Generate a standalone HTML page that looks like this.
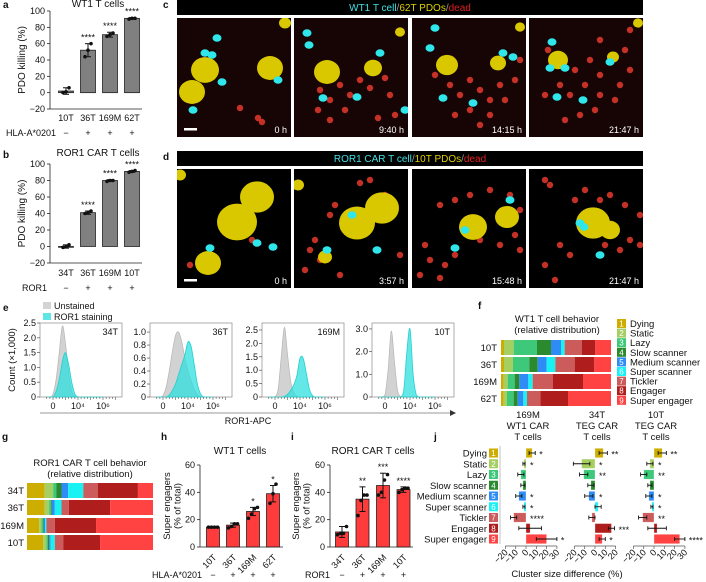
<!DOCTYPE html>
<html><head><meta charset="utf-8"><style>
html,body{margin:0;padding:0;background:#fff;}
svg{display:block;font-family:"Liberation Sans",Arial,sans-serif;}
</style></head><body>
<svg id="fig" width="706" height="582" viewBox="0 0 706 582" xmlns="http://www.w3.org/2000/svg"></svg>
<script>
// ---------- DATA ----------
const aCats=['10T','36T','169M','62T'];
const aVals=[2,52,71,91];
const aErr=[4,8,3,1];
const aPts=[[0,1,6],[44,52,60],[69,71,73],[90,91,91]];
const aCond=['−','+','+','+'];
const aStars=['','****','****','****'];
const bCats=['34T','36T','169M','10T'];
const bVals=[0,41,80,91];
const bErr=[2,2,1,1];
const bPts=[[-1,0,2],[40,41,43],[79,80,80],[90,91,92]];
const bCond=['−','+','+','+'];
const bStars=['','****','****','****'];
const abTicks=[-20,0,20,40,60,80,100];

const hCats=['10T','36T','169M','62T'];
const hVals=[14.5,16,26,39];
const hErr=[0.5,1.5,3,6];
const hPts=[[14.5,14.5,14.5,14.5],[14,15,17,17],[21,24,28,29],[32,39,46]];
const hStars=['','','*','*'];
const iCats=['34T','36T','169M','10T'];
const iVals=[11,35,45,42];
const iErr=[4,9,9,2];
const iPts=[[9,10,10,15],[23,34,38,38],[38,40,49,53],[40,42,43,43]];
const iStars=['','**','***','****'];
const hiTicks=[0,20,40,60];

const behaviors=['Dying','Static','Lazy','Slow scanner','Medium scanner','Super scanner','Tickler','Engager','Super engager'];
const fRows=['10T','36T','169M','62T'];
const f10T=[9,29,70,42,30,11,52,40,47];
const f36T=[9,27,49,25,27,26,58,59,50];
const f169M=[8,12,21,14,27,13,61,90,84];
const f62T=[8,10,20,12,17,11,40,83,129];
const gRows=['34T','36T','169M','10T'];
const g34T=[53,25,10,15,20,45,43,120,45];
const g36T=[53,13,5,3,9,20,22,123,128];
const g169M=[36,7,4,3,4,4,25,123,170];
const g10T=[48,10,4,4,4,13,25,110,158];

const histV=[-1,-0.5,0,0.5,1,1.5,2,2.5,3,3.5,4,4.5,5,5.5,6,6.5,7,7.5,8];
const histNames=['34T','36T','169M','10T'];
const histMax=[2.5,1.14,2.76,3.26];
const hist34Tgray=[0,0,0.1,0.6,1.5,2.4,1.8,0.8,0.2,0,0,0,0,0,0,0,0,0,0];
const hist34Tcyan=[0,0,0,0.2,0.6,1.2,1.5,1.1,0.5,0.1,0,0,0,0,0,0,0,0,0];
const hist36Tgray=[0,0,0.02,0.15,0.4,0.7,0.95,1.0,0.85,0.6,0.4,0.25,0.12,0.04,0,0,0,0,0];
const hist36Tcyan=[0,0,0,0,0.03,0.1,0.2,0.35,0.5,0.65,0.85,0.78,0.5,0.2,0.05,0,0,0,0];
const hist169Mgray=[0,0,0,0.3,1.5,2.6,1.6,0.6,0.15,0.03,0,0,0,0,0,0,0,0,0];
const hist169Mcyan=[0,0,0,0,0,0.02,0.1,0.25,0.45,0.8,1.45,1.45,0.9,0.3,0.05,0,0,0,0];
const hist10Tgray=[0,0,0.1,1.2,2.9,1.6,0.3,0.02,0,0,0,0,0,0,0,0,0,0,0];
const hist10Tcyan=[0,0,0,0,0,0,0,0,0.3,2.0,3.0,1.0,0.1,0,0,0,0,0,0];
const histTicks=[0,4,8];
const histTickLabels=['0','10⁴','10⁶'];

const jTitles=[['169M','WT1 CAR','T cells'],['34T','TEG CAR','T cells'],['10T','TEG CAR','T cells']];
const j169M=[6,-2,-5,-3,-7,-2,-12,4,20];
const j169MErr=[3,1,3,2,3,1,3,11,10];
const j169MStars=['*','*','','','*','*','****','','*'];
const j34T=[8,-13,-11,-4,-6,3,-3,16,7];
const j34TErr=[4,8,4,3,4,3,3,3,3];
const j34TStars=['**','*','**','','*','','','***','*'];
const j10T=[8,-4,-10,-4,-5,-2,-11,3,25];
const j10TErr=[4,3,3,2,3,1,4,9,5];
const j10TStars=['**','*','**','','*','*','**','','****'];
const jTicks1=[-20,-10,0,10,20,30];
const jTicks2=[-20,-10,0,10,20];
const jTicks3=[-20,-10,0,10,20,30];

const colors=['#cdae00','#a6cf62','#3dc87a','#2b8a2e','#2f8cf5','#19f2f2','#cc5b5b','#b01d1d','#ff4242'];

// ---------- HELPERS ----------
const NS='http://www.w3.org/2000/svg';
const svg=document.getElementById('fig');
function mk(tag,at,parent){const e=document.createElementNS(NS,tag);for(const k in at)e.setAttribute(k,at[k]);(parent||svg).appendChild(e);return e;}
function txt(x,y,s,at,parent){const e=mk('text',Object.assign({x:x,y:y,'font-size':9,fill:'#111'},at||{}),parent);e.textContent=s;return e;}
function grp(name){const g=mk('g',{});return g;}
function lin(d0,d1,r0,r1){return v=>r0+(v-d0)*(r1-r0)/(d1-d0);}

// panel letters
[['a',3,8],['b',3,158],['c',163,8],['d',163,160],['e',3,311],['f',478,309],['g',2,440],['h',161,440],['i',291,440],['j',434,440]].forEach(p=>{
  const t=txt(p[1],p[2],p[0],{'font-weight':'bold','font-size':10});
  
  
});

// ---------- BAR PANELS (a,b,h,i) ----------
function barPanel(o){
  const g=grp(o.name);
  const y=lin(o.d0,o.d1,o.y0,o.y1);
  txt(o.tx,o.ty,o.title,{'text-anchor':'middle','font-size':10},g);
  mk('line',{x1:o.ax,y1:o.y1,x2:o.ax,y2:o.y0,stroke:'#222','stroke-width':0.8},g);
  mk('line',{x1:o.ax,y1:o.y0,x2:o.ax2,y2:o.y0,stroke:'#222','stroke-width':0.8},g);
  o.ticks.forEach(t=>{
    mk('line',{x1:o.ax-3,y1:y(t),x2:o.ax,y2:y(t),stroke:'#222','stroke-width':0.8},g);
    const tl=txt(o.ax-5,y(t)+3,t<0?'−'+Math.abs(t):String(t),{'text-anchor':'end'},g);
    
    
  });
  o.cats.forEach((c,i)=>{
    const xc=o.cx0+i*o.step;
    const top=y(Math.max(o.vals[i],0)), bot=y(Math.min(o.vals[i],0));
    const r=mk('rect',{x:xc-o.bw/2,y:top,width:o.bw,height:Math.max(bot-top,0.8),fill:o.fill,stroke:'#222','stroke-width':0.8},g);
    
    
    const e1=y(o.vals[i]+o.err[i]), e2=y(o.vals[i]-o.err[i]);
    mk('line',{x1:xc,y1:e1,x2:xc,y2:e2,stroke:'#111','stroke-width':1},g);
    mk('line',{x1:xc-3,y1:e1,x2:xc+3,y2:e1,stroke:'#111','stroke-width':1},g);
    mk('line',{x1:xc-3,y1:e2,x2:xc+3,y2:e2,stroke:'#111','stroke-width':1},g);
    o.pts[i].forEach((p,k)=>{
      const n=o.pts[i].length;
      const dot=mk('circle',{cx:xc+(k-(n-1)/2)*3,cy:y(p),r:1.8,fill:'#111'},g);
      
      
    });
    if(o.stars[i]) txt(xc,y(o.vals[i]+o.err[i])-3,o.stars[i],{'text-anchor':'middle','font-size':9},g);
    if(o.rot){
      const cl=txt(xc+4,o.ly,c,{'text-anchor':'end',transform:'rotate(-45 '+(xc+4)+' '+o.ly+')'},g);
      
      
    } else {
      const cl=txt(xc,o.ly,c,{'text-anchor':'middle'},g);
      
      
    }
    txt(xc,o.cy,o.cond[i],{'text-anchor':'middle'},g);
  });
  txt(o.cnx,o.cy,o.cname,{'text-anchor':o.cna||'start'},g);
  if(o.ylab.length===1){
    txt(0,0,o.ylab[0],{'text-anchor':'middle','font-size':10,transform:'translate('+o.ylx+','+(o.y0+o.y1)/2+') rotate(-90)'},g);
  } else {
    o.ylab.forEach((l,k)=>txt(0,0,l,{'text-anchor':'middle','font-size':9.5,transform:'translate('+(o.ylx+k*10.5)+','+(o.y0+o.y1)/2+') rotate(-90)'},g));
  }
}
barPanel({name:'panel-a-wt1-killing',title:'WT1 T cells',tx:98,ty:7,cats:aCats,vals:aVals,err:aErr,pts:aPts,stars:aStars,cond:aCond,cname:'HLA-A*0201',cnx:6,cy:136,
  d0:-20,d1:100,y0:109,y1:11,ax:50,ax2:142,cx0:66,step:22,bw:15,fill:'#808080',ticks:abTicks,ly:121,ylab:['PDO killing (%)'],ylx:25});
barPanel({name:'panel-b-ror1-killing',title:'ROR1 CAR T cells',tx:98,ty:156,cats:bCats,vals:bVals,err:bErr,pts:bPts,stars:bStars,cond:bCond,cname:'ROR1',cnx:22,cy:291,
  d0:-20,d1:100,y0:263,y1:164,ax:50,ax2:142,cx0:66,step:22,bw:15,fill:'#808080',ticks:abTicks,ly:276,ylab:['PDO killing (%)'],ylx:25});
barPanel({name:'panel-h-wt1-super-engagers',title:'WT1 T cells',tx:240,ty:454,cats:hCats,vals:hVals,err:hErr,pts:hPts,stars:hStars,cond:aCond,cname:'HLA-A*0201',cnx:152,cy:578,
  d0:0,d1:60,y0:547,y1:465,ax:200,ax2:283,cx0:213,step:20,bw:13,fill:'#ff3b3b',ticks:hiTicks,ly:558,rot:true,ylab:['Super engagers','(% of total)'],ylx:170});
barPanel({name:'panel-i-ror1-super-engagers',title:'ROR1 CAR T cells',tx:373,ty:454,cats:iCats,vals:iVals,err:iErr,pts:iPts,stars:iStars,cond:bCond,cname:'ROR1',cnx:305,cy:578,
  d0:0,d1:60,y0:547,y1:465,ax:330,ax2:413,cx0:342,step:20.5,bw:13,fill:'#ff3b3b',ticks:hiTicks,ly:558,rot:true,ylab:['Super engagers','(% of total)'],ylx:299});

// ---------- MICROSCOPY (c,d) ----------
function scope(name,y0,h,headerParts,frames){
  const g=grp(name);
  mk('rect',{x:177,y:y0,width:466,height:15,fill:'#000'},g);
  const ht=mk('text',{x:410,y:y0+11,'font-size':10,'text-anchor':'middle'},g);
  headerParts.forEach(p=>{const s=mk('tspan',{fill:p[1]},ht);s.textContent=p[0];});
  const xs=[177,294,412,529];
  frames.forEach((f,i)=>{
    const fg=mk('g',{},g);
    
    
    const fy=y0+18;
    mk('rect',{x:xs[i],y:fy,width:114,height:h,fill:f.bg},fg);
    const cp='clip'+name+i;
    const cl=mk('clipPath',{id:cp},fg);mk('rect',{x:xs[i],y:fy,width:114,height:h},cl);
    const inner=mk('g',{'clip-path':'url(#'+cp+')'},fg);
    f.red.forEach(p=>mk('circle',{cx:p[0],cy:p[1],r:3.2,fill:'#d8362a',opacity:0.9},inner));
    f.yel.forEach(p=>mk('ellipse',{cx:p[0],cy:p[1],rx:p[2],ry:p[2]*0.92,fill:'#d9c800'},inner));
    f.cy.forEach(p=>mk('ellipse',{cx:p[0],cy:p[1],rx:4.5,ry:3.8,fill:'#2fe6ea'},inner));
    txt(xs[i]+110,fy+h-4,f.t,{'text-anchor':'end',fill:'#fff','font-size':9},fg);
    if(i===0) mk('rect',{x:xs[i]+7,y:fy+h-9,width:13,height:2.5,fill:'#fff'},fg);
  });
}
scope('panel-c-wt1-timelapse',0,119,[['WT1 T cell','#3fe0e6'],['/','#999'],['62T PDOs','#e0cf00'],['/','#999'],['dead','#e02020']],[
 {t:'0 h',bg:'#170505',red:[[240,108],[262,72],[258,118],[262,122]],yel:[[205,70,14],[192,92,13],[270,68,13],[285,23,6]],cy:[[217,38],[193,110],[222,82],[278,80],[205,53],[212,55]]},
 {t:'9:40 h',bg:'#170505',red:[[320,90],[330,100],[340,85],[345,110],[360,80],[385,78],[390,95],[370,88],[335,75],[350,95],[318,110],[395,115],[330,120],[378,118]],yel:[[327,72,13],[373,68,9],[400,32,5]],cy:[[307,33],[309,45],[323,98],[380,53],[357,97],[405,110]]},
 {t:'14:15 h',bg:'#170505',red:[[450,85],[460,95],[470,80],[480,90],[490,100],[500,85],[515,80],[505,100],[470,110],[490,115],[455,115],[480,125],[520,60],[435,75]],yel:[[447,65,11],[498,63,8],[520,27,5]],cy:[[435,28],[430,48],[443,98],[473,103],[503,53],[513,57]]},
 {t:'21:47 h',bg:'#170505',red:[[575,70],[590,60],[600,75],[585,85],[570,95],[600,95],[620,85],[630,70],[625,50],[615,100],[595,110],[580,115],[560,85],[545,95],[565,120],[630,30],[600,40],[548,50]],yel:[[558,60,10],[613,57,6],[638,23,5]],cy:[[552,42],[550,68],[565,68],[557,97],[583,100],[610,62]]}
]);
scope('panel-d-ror1-timelapse',151,119,[['ROR1 CAR T cell','#3fe0e6'],['/','#999'],['10T PDOs','#e0cf00'],['/','#999'],['dead','#e02020']],[
 {t:'0 h',bg:'#000',red:[[190,265],[252,240]],yel:[[237,222,20],[257,197,17],[208,263,13],[180,175,6]],cy:[[257,243],[273,247],[210,248]]},
 {t:'3:57 h',bg:'#000',red:[[335,205],[370,180],[360,183],[310,250],[320,260],[305,270],[315,240],[340,275],[400,255],[385,195],[330,215]],yel:[[357,223,18],[382,208,17],[325,257,7],[298,185,6]],cy:[[327,250],[377,250],[352,215]]},
 {t:'15:48 h',bg:'#000',red:[[440,205],[455,200],[470,195],[490,190],[510,195],[520,210],[515,235],[500,245],[520,250],[430,260],[420,275],[445,265],[455,255],[425,245],[480,240],[440,278]],yel:[[473,227,14],[507,217,12]],cy:[[455,248],[465,230],[510,200]]},
 {t:'21:47 h',bg:'#000',red:[[545,180],[550,185],[600,200],[610,195],[625,205],[640,215],[630,240],[620,250],[605,245],[640,245],[560,245],[570,255],[545,265],[555,280],[585,190],[575,200]],yel:[[593,223,17],[610,230,10]],cy:[[580,223],[584,227],[600,255]]}
]);

// ---------- HISTOGRAMS (e) ----------
(function(){
  const g=grp('panel-e-flow-histograms');
  const lg1=mk('rect',{x:43,y:302,width:8,height:7,fill:'#d4d4d4'},g);
  
  
  txt(54,309,'Unstained',{},g);
  const lg2=mk('rect',{x:43,y:313,width:8,height:7,fill:'#5ee6e6'},g);
  
  
  txt(54,320,'ROR1 staining',{},g);
  txt(0,0,'Count (×1,000)',{'text-anchor':'middle','font-size':9.5,transform:'translate(15,360) rotate(-90)'},g);
  const fx=[40,150,262,372];
  const grays=[hist34Tgray,hist36Tgray,hist169Mgray,hist10Tgray];
  const cyans=[hist34Tcyan,hist36Tcyan,hist169Mcyan,hist10Tcyan];
  const yt=[[0,0.5,1.0,1.5,2.0,2.5],[0,0.2,0.4,0.6,0.8,1.0],[0,0.5,1.0,1.5,2.0,2.5],[0,1.0,2.0,3.0]];
  function path(xs,ys,x,y){
    const P=xs.map((v,i)=>[x(v),y(ys[i])]);
    let d='M'+P[0][0]+','+P[0][1];
    for(let i=0;i<P.length-1;i++){
      const p0=P[Math.max(i-1,0)],p1=P[i],p2=P[i+1],p3=P[Math.min(i+2,P.length-1)];
      const c1=[p1[0]+(p2[0]-p0[0])/6,Math.min(p1[1]+(p2[1]-p0[1])/6,y(0))];
      const c2=[p2[0]-(p3[0]-p1[0])/6,Math.min(p2[1]-(p3[1]-p1[1])/6,y(0))];
      d+=' C'+c1[0]+','+c1[1]+' '+c2[0]+','+c2[1]+' '+p2[0]+','+p2[1];
    }
    return d+' Z';
  }
  histNames.forEach((n,k)=>{
    const sg=mk('g',{},g);
    
    
    const x=lin(0,8,fx[k]+13,fx[k]+63);
    const y=lin(0,histMax[k],397,323);
    mk('rect',{x:fx[k],y:323,width:82,height:74,fill:'none',stroke:'#999','stroke-width':0.8},sg);
    const gp=mk('path',{d:path(histV,grays[k],x,y),fill:'#d2d2d2',stroke:'#b5b5b5','stroke-width':0.7},sg);
    
    
    const cp=mk('path',{d:path(histV,cyans[k],x,y),fill:'rgba(40,222,222,0.72)',stroke:'#22d0d0','stroke-width':0.8},sg);
    
    
    txt(fx[k]+78,335,n,{'text-anchor':'end'},sg);
    yt[k].forEach(t=>{
      mk('line',{x1:fx[k]-3,y1:y(t),x2:fx[k],y2:y(t),stroke:'#555','stroke-width':0.7},sg);
      txt(fx[k]-4,y(t)+3,t===0?'0':t.toFixed(1),{'text-anchor':'end'},sg);
    });
    for(let m=-1;m<=10;m+=0.5) mk('line',{x1:x(m),y1:397,x2:x(m),y2:m%2===0?400:399,stroke:'#555','stroke-width':0.6},sg);
    histTicks.forEach((t,j)=>txt(x(t),409,histTickLabels[j],{'text-anchor':'middle'},sg));
  });
  mk('line',{x1:40,y1:413,x2:450,y2:413,stroke:'#777','stroke-width':0.8},g);
  mk('path',{d:'M450,410 L456,413 L450,416 Z',fill:'#333'},g);
  txt(248,424,'ROR1-APC',{'text-anchor':'middle'},g);
})();

// ---------- STACKED BARS (f,g) ----------
function stacked(name,title,tx,ty,rows,data,x0,x1,ys,h,lx){
  const g=grp(name);
  txt(tx,ty,title[0],{'text-anchor':'middle','font-size':9.5},g);
  txt(tx,ty+11,title[1],{'text-anchor':'middle','font-size':9.5},g);
  rows.forEach((r,i)=>{
    const tot=data[i].reduce((a,b)=>a+b,0);
    const x=lin(0,tot,x0,x1);
    let acc=0;
    txt(lx,ys[i]+h/2+3.5,r,{'text-anchor':'end','font-size':9.5},g);
    data[i].forEach((v,k)=>{
      const s=mk('rect',{x:x(acc),y:ys[i],width:x(acc+v)-x(acc),height:h,fill:colors[k]},g);
      
      
      acc+=v;
    });
  });
}
stacked('panel-f-wt1-behavior',['WT1 T cell behavior','(relative distribution)'],557,322,fRows,[f10T,f36T,f169M,f62T],501,611,[340,357,374,391],15,497);
stacked('panel-g-ror1-behavior',['ROR1 CAR T cell behavior','(relative distribution)'],90,466,gRows,[g34T,g36T,g169M,g10T],27,153,[483,500,518,535],15,24);

// legend f
(function(){
  const g=grp('panel-f-legend');
  behaviors.forEach((b,k)=>{
    const yy=319+k*9.6;
    const s=mk('rect',{x:617,y:yy,width:9,height:9,fill:colors[k]},g);
    
    
    txt(621.5,yy+7.5,String(k+1),{'text-anchor':'middle',fill:'#fff','font-size':8},g);
    txt(630,yy+8,b,{'font-size':9.5},g);
  });
})();

// ---------- PANEL J ----------
(function(){
  const g=grp('panel-j-cluster-difference');
  const rowY=k=>453+k*10.75;
  behaviors.forEach((b,k)=>{
    txt(487,rowY(k)+3.5,b,{'text-anchor':'end','font-size':9.5},g);
    const s=mk('rect',{x:489,y:rowY(k)-4.5,width:9,height:9,fill:colors[k]},g);
    
    
    txt(493.5,rowY(k)+3,String(k+1),{'text-anchor':'middle',fill:'#fff','font-size':8},g);
  });
  mk('line',{x1:500,y1:446,x2:500,y2:544,stroke:'#aaa','stroke-width':0.7},g);
  const subs=[{z:526,v:j169M,e:j169MErr,s:j169MStars,t:jTicks1,a0:-20,a1:30},{z:595,v:j34T,e:j34TErr,s:j34TStars,t:jTicks2,a0:-20,a1:20},{z:654,v:j10T,e:j10TErr,s:j10TStars,t:jTicks3,a0:-20,a1:30}];
  subs.forEach((sb,si)=>{
    const sg=mk('g',{},g);
    
    
    const x=lin(0,10,sb.z,sb.z+10.3);
    jTitles[si].forEach((t,li)=>txt(x(0)+2,418+li*11,t,{'text-anchor':'middle','font-size':9.5},sg));
    mk('line',{x1:x(sb.a0),y1:546,x2:x(sb.a1),y2:546,stroke:'#555','stroke-width':0.7},sg);
    sb.t.forEach(t=>{
      mk('line',{x1:x(t),y1:546,x2:x(t),y2:549,stroke:'#555','stroke-width':0.7},sg);
      txt(x(t)+3,553,t<0?'−'+Math.abs(t):String(t),{'text-anchor':'end',transform:'rotate(-45 '+(x(t)+3)+' 553)'},sg);
    });
    sb.v.forEach((v,k)=>{
      const x0=Math.min(x(0),x(v)),w=Math.abs(x(v)-x(0));
      const r=mk('rect',{x:x0,y:rowY(k)-4.7,width:Math.max(w,0.8),height:9.4,fill:colors[k],stroke:'#fff','stroke-width':0.5,'stroke-opacity':0.6},sg);
      
      
      const ex0=x(v-sb.e[k]),ex1=x(v+sb.e[k]);
      const ey=rowY(k);
      mk('line',{x1:ex0,y1:ey,x2:ex1,y2:ey,stroke:'#111','stroke-width':0.9},sg);
      mk('line',{x1:ex0,y1:ey-2,x2:ex0,y2:ey+2,stroke:'#111','stroke-width':0.9},sg);
      mk('line',{x1:ex1,y1:ey-2,x2:ex1,y2:ey+2,stroke:'#111','stroke-width':0.9},sg);
      if(sb.s[k]){
        const sx=Math.max(x(0),x(v+sb.e[k]))+4;
        txt(sx,ey+4.5,sb.s[k],{'font-size':9},sg);
      }
    });
  });
  txt(567,577,'Cluster size difference (%)',{'text-anchor':'middle','font-size':9.5},g);
})();
</script>
</body></html>
